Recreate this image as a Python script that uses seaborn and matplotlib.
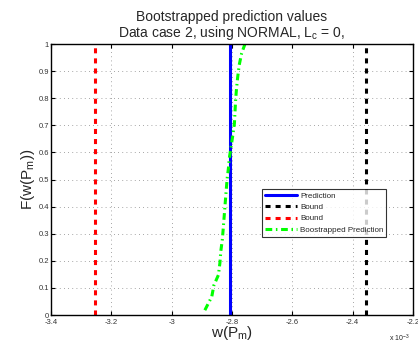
import numpy as np
import pandas as pd
import matplotlib
matplotlib.use("Agg")
import matplotlib.pyplot as plt
import seaborn as sns

# values in units of 1e-3
prediction = -2.806
bound_upper = -2.355
bound_lower = -3.255
boot_x = [-2.890, -2.867, -2.860, -2.845, -2.840, -2.837, -2.832, -2.829, -2.826,
          -2.823, -2.820, -2.816, -2.812, -2.809, -2.803, -2.798, -2.792, -2.790,
          -2.788, -2.785, -2.781, -2.776, -2.768, -2.757]
boot_y = [0.018, 0.068, 0.110, 0.148, 0.193, 0.236, 0.279, 0.320, 0.363,
          0.406, 0.449, 0.504, 0.540, 0.578, 0.621, 0.658, 0.707, 0.750,
          0.793, 0.836, 0.879, 0.923, 0.966, 1.000]
xticks = [-3.4, -3.2, -3.0, -2.8, -2.6, -2.4, -2.2]
xticklabels = ["-3.4", "-3.2", "-3", "-2.8", "-2.6", "-2.4", "-2.2"]
yticks = [0, 0.1, 0.2, 0.3, 0.4, 0.5, 0.6, 0.7, 0.8, 0.9, 1]
yticklabels = ["0", "0.1", "0.2", "0.3", "0.4", "0.5", "0.6", "0.7", "0.8", "0.9", "1"]

sns.set_style("white")
plt.rcParams['font.family'] = ['Liberation Sans', 'DejaVu Sans']
plt.rcParams['mathtext.default'] = 'regular'

fig = plt.figure(figsize=(4.18, 3.47), dpi=100)
ax = fig.add_axes([0.122, 0.092, 0.866, 0.781])

pred_df = pd.DataFrame({"x": [prediction, prediction], "y": [0, 1]})
ub_df = pd.DataFrame({"x": [bound_upper, bound_upper], "y": [0, 1]})
lb_df = pd.DataFrame({"x": [bound_lower, bound_lower], "y": [0, 1]})
boot_df = pd.DataFrame({"x": boot_x, "y": boot_y})

lw = 2.2
sns.lineplot(data=pred_df, x="x", y="y", ax=ax, color="#0000ff", linewidth=lw,
             estimator=None, sort=False, label="Prediction")
sns.lineplot(data=ub_df, x="x", y="y", ax=ax, color="black", linewidth=lw,
             linestyle=(0, (1.65, 1.65)), estimator=None, sort=False, label="Bound")
sns.lineplot(data=lb_df, x="x", y="y", ax=ax, color="#ff0000", linewidth=lw,
             linestyle=(0, (1.65, 1.65)), estimator=None, sort=False, label="Bound")
sns.lineplot(data=boot_df, x="x", y="y", ax=ax, color="#00ff00", linewidth=lw,
             linestyle=(0, (2.2, 1.2, 0.5, 1.2)), estimator=None, sort=False,
             label="Boostrapped Prediction")

ax.set_xlim(-3.4, -2.2)
ax.set_ylim(0, 1)
ax.set_xticks(xticks)
ax.set_xticklabels(xticklabels)
ax.set_yticks(yticks)
ax.set_yticklabels(yticklabels)
ax.tick_params(axis='both', direction='in', length=3, labelsize=5.5, pad=2.5,
               labelcolor='#333333', color='black', top=True, right=True, bottom=True, left=True)
ax.tick_params(axis='y', pad=1.5)
ax.grid(True, linestyle=(0, (1, 4)), color='#888888', linewidth=0.6)
for s in ax.spines.values():
    s.set_color('black')
    s.set_linewidth(1.0)

ax.set_xlabel("w(P$_m$)", fontsize=11, labelpad=-1)
ax.set_ylabel("F(w(P$_m$))", fontsize=11, labelpad=1)
ax.set_title("Bootstrapped prediction values\nData case 2, using NORMAL, L$_c$ = 0,",
             fontsize=10, linespacing=1.0, pad=5)
ax.text(0.99, -0.065, "x 10$^{-3}$", transform=ax.transAxes, fontsize=5,
        ha='right', va='top')

leg = ax.legend(loc='upper left', bbox_to_anchor=(0.583, 0.465), fontsize=5.8,
                frameon=True, fancybox=False, edgecolor='black', handlelength=4.0,
                borderpad=0.4, labelspacing=0.45, handletextpad=0.3, borderaxespad=0)
leg.get_frame().set_linewidth(0.8)

fig.savefig("out.png", dpi=100)
